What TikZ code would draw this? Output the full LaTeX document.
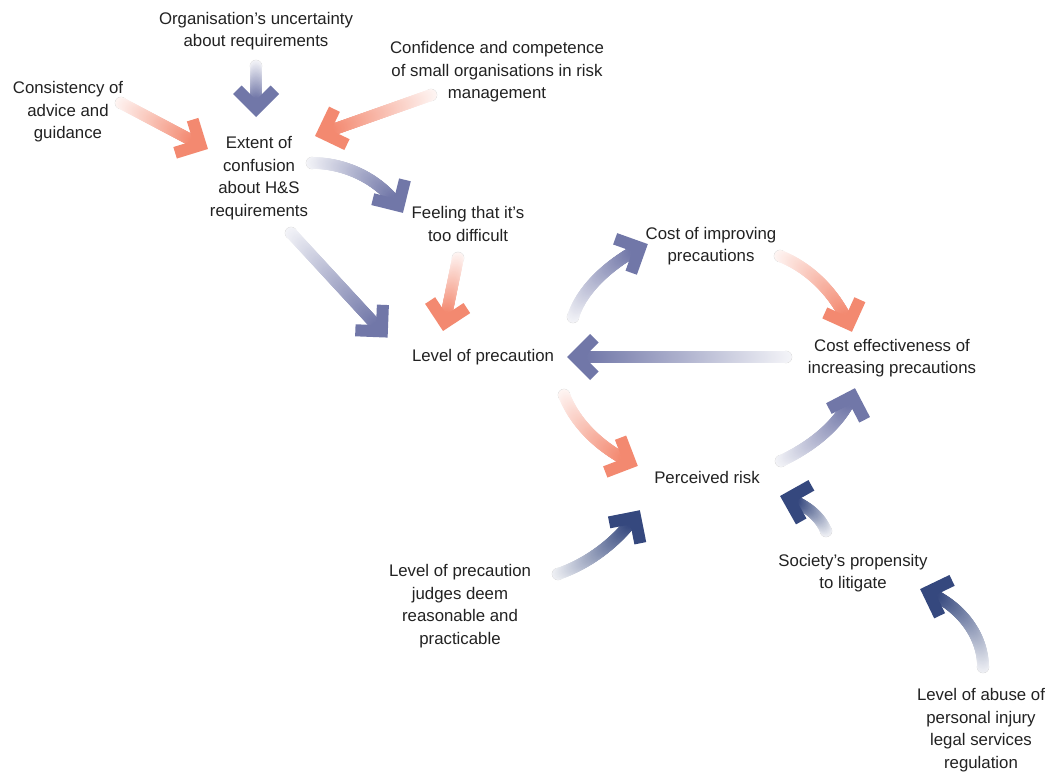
\documentclass[tikz,border=0pt]{standalone}
\usepackage{fontspec}
\setmainfont{Liberation Sans}
\usetikzlibrary{decorations.markings}
\definecolor{bluA}{RGB}{113,119,168}
\definecolor{salA}{RGB}{243,137,112}
\definecolor{navA}{RGB}{53,72,126}
\definecolor{txt}{RGB}{34,34,34}
\newcommand\gradarrow[2]{%
  \path[postaction={decorate}, decoration={markings,
     mark=at position 0 with {\draw[black!18, line width=0.5pt] (0,0) circle (4.4pt);},
     mark=between positions 0 and -10pt step 0.6pt with {%
       \pgfmathsetmacro\mixpct{8+92*\pgfkeysvalueof{/pgf/decoration/mark info/distance from start}/(\pgfdecoratedpathlength-10)}%
       \fill[#1!\mixpct!white] (0,0) circle (4.4pt);},
     mark=at position 1 with {\fill[#1] (0,0) -- (-23,23) -- (-31.5,14.5) -- (-17,0) -- (-31.5,-14.5) -- (-23,-23) -- cycle;}
  }] #2;
}
\begin{document}
\begin{tikzpicture}[x=0.75pt,y=-0.75pt,
  lbl/.style={align=center,inner sep=0pt,text=txt,font=\fontsize{12.6}{16.9}\selectfont}]
\useasboundingbox[fill=white] (0,0) rectangle (1062,771);
% labels
\node[lbl] (org) at (256,31) {Organisation’s uncertainty\\about requirements};
\node[lbl] (conf) at (497,72) {Confidence and competence\\of small organisations in risk\\management};
\node[lbl] (cons) at (68,112) {Consistency of\\advice and\\guidance};
\node[lbl] (ext) at (259,178) {Extent of\\confusion\\about H\&S\\requirements};
\node[lbl] (feel) at (468,224) {Feeling that it’s\\too difficult};
\node[lbl] (cost) at (711,246) {Cost of improving\\precautions};
\node[lbl] (lev) at (483,357) {Level of precaution};
\node[lbl] (ce) at (892,358) {Cost effectiveness of\\increasing precautions};
\node[lbl] (risk) at (707,477) {Perceived risk};
\node[lbl] (judg) at (460,606) {Level of precaution\\judges deem\\reasonable and\\practicable};
\node[lbl] (soc) at (853,573) {Society’s propensity\\to litigate};
\node[lbl] (abuse) at (981,730) {Level of abuse of\\personal injury\\legal services\\regulation};
% connector end points
\coordinate (a1s) at (256,66);  \coordinate (a1e) at (256,117);
\coordinate (a2s) at (121,103); \coordinate (a2e) at (208,149);
\coordinate (a3s) at (431,95);  \coordinate (a3e) at (315,136);
\coordinate (a4s) at (312,163); \coordinate (a4e) at (403,213);
\coordinate (a5s) at (291,233); \coordinate (a5e) at (388,338);
\coordinate (a6s) at (458,258); \coordinate (a6e) at (443,331);
\coordinate (a7s) at (573,317); \coordinate (a7e) at (648,244);
\coordinate (a8s) at (780,256); \coordinate (a8e) at (852,332);
\coordinate (a9s) at (786,357); \coordinate (a9e) at (567,357);
\coordinate (a10s) at (564,395); \coordinate (a10e) at (638,466);
\coordinate (a11s) at (781,461); \coordinate (a11e) at (855,388);
\coordinate (a12s) at (558,574); \coordinate (a12e) at (640,510);
\coordinate (a13s) at (826,531); \coordinate (a13e) at (780,496);
\coordinate (a14s) at (983,667); \coordinate (a14e) at (920,589);
% arrows
\gradarrow{bluA}{(a1s) -- (a1e)}
\gradarrow{salA}{(a2s) -- (a2e)}
\gradarrow{salA}{(a3s) -- (a3e)}
\gradarrow{bluA}{(a4s) .. controls (350,163) and (385,183) .. (a4e)}
\gradarrow{bluA}{(a5s) -- (a5e)}
\gradarrow{salA}{(a6s) -- (a6e)}
\gradarrow{bluA}{(a7s) .. controls (582,288) and (612,261) .. (a7e)}
\gradarrow{salA}{(a8s) .. controls (815,270) and (840,300) .. (a8e)}
\gradarrow{bluA}{(a9s) -- (a9e)}
\gradarrow{salA}{(a10s) .. controls (576,425) and (602,450) .. (a10e)}
\gradarrow{bluA}{(a11s) .. controls (815,445) and (845,420) .. (a11e)}
\gradarrow{navA}{(a12s) .. controls (590,563) and (620,540) .. (a12e)}
\gradarrow{navA}{(a13s) .. controls (820,516) and (805,503) .. (a13e)}
\gradarrow{navA}{(a14s) .. controls (983,635) and (960,603) .. (a14e)}
\end{tikzpicture}
\end{document}
